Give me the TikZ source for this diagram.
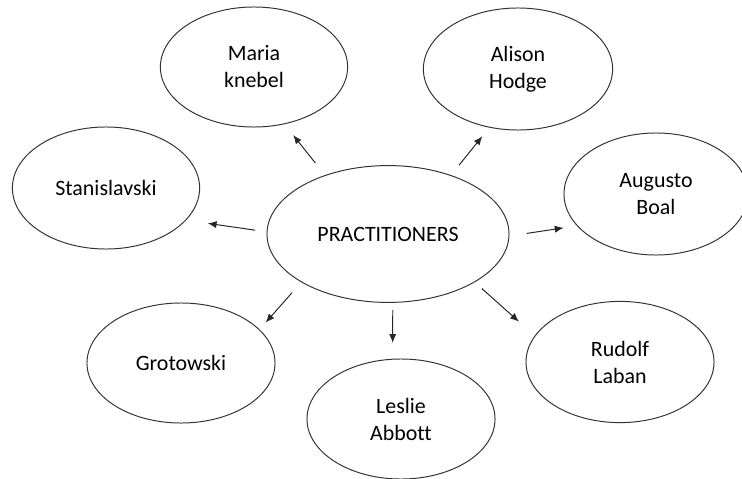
\documentclass[tikz,border=0pt]{standalone}
\usepackage{fontspec}
\setmainfont{Carlito}[Ligatures={NoCommon}]
\usetikzlibrary{arrows.meta,shapes.geometric}
\tikzset{
    every node/.append style={align=center},
    bubble/.style={ellipse,draw=black!80,line width=0.7pt,inner sep=0pt,outer sep=0pt,
        minimum width=4.7cm,minimum height=3cm,font=\fontsize{15.6}{19.2}\selectfont},
    hub/.style={bubble,minimum width=6.05cm,minimum height=3.42cm},
    arr/.style={-{Latex[length=2.2mm,width=1.8mm]},line width=0.7pt,black!85}
}
\begin{document}
\begin{tikzpicture}[x=0.025cm,y=-0.025cm]
    \useasboundingbox (0,0) rectangle (742,479);
    % centre
    \node[hub] (prac) at (388,234) {PRACTITIONERS};
    % practitioners round it
    \node[bubble,minimum width=4.68cm]                        (maria)   at (254, 67) {Maria\\knebel};
    \node[bubble,minimum width=4.73cm,minimum height=3.05cm]  (alison)  at (518, 69) {Alison\\Hodge};
    \node[bubble,minimum width=4.68cm,minimum height=3.05cm]  (stan)    at (106,188) {Stanislavski};
    \node[bubble,minimum width=4.6cm,minimum height=3.05cm]   (augusto) at (656,194) {Augusto\\Boal};
    \node[bubble]                                             (groto)   at (181,363) {Grotowski};
    \node[bubble]                                             (leslie)  at (401,419) {Leslie\\Abbott};
    \node[bubble,minimum height=3.03cm]                       (rudolf)  at (620,362) {Rudolf\\Laban};

    \draw[arr,shorten <=0.4cm, shorten >=0.36cm] (prac.137.2) -- (maria.298);
    \draw[arr,shorten <=0.33cm,shorten >=0.29cm] (prac.43.9)  -- (alison.244.7);
    \draw[arr,shorten <=0.3cm, shorten >=0.56cm] (prac.179)   -- (stan.338.3);
    \draw[arr,shorten <=0.45cm,shorten >=0.35cm] (prac.359.3) -- (augusto.202.3);
    \draw[arr,shorten <=0.36cm,shorten >=0.24cm] (prac.209.8) -- (groto.23.8);
    \draw[arr,shorten <=0.19cm,shorten >=0.41cm] (prac.274.5) -- (leslie.98.4);
    \draw[arr,shorten <=0.25cm,shorten >=0.54cm] (prac.331.8) -- (rudolf.163.6);
\end{tikzpicture}
\end{document}
